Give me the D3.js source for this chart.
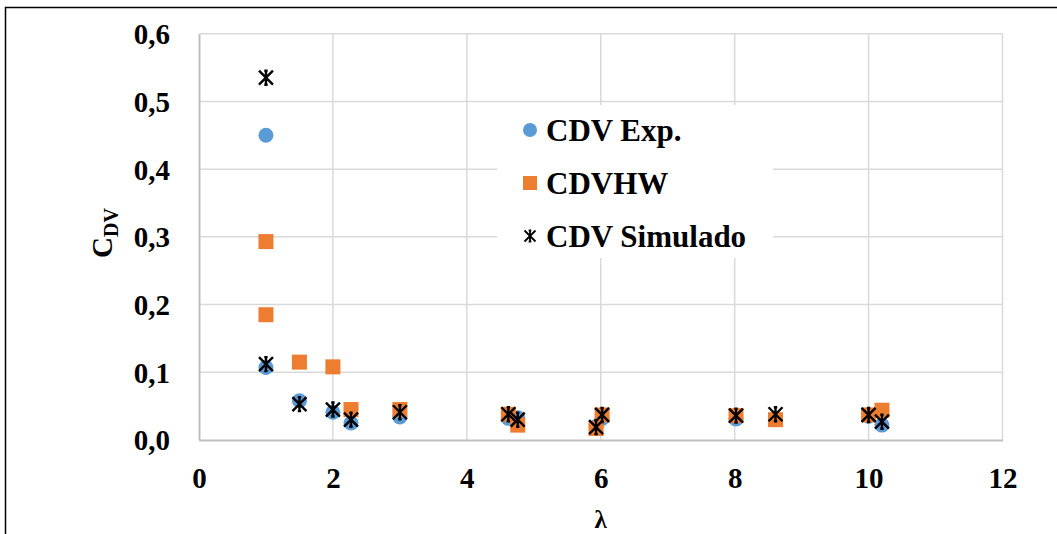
<!DOCTYPE html>
<html><head><meta charset="utf-8">
<script src="https://cdn.jsdelivr.net/npm/d3@7"></script>
<style>
html,body{margin:0;padding:0;background:#fff;}
svg{display:block;}
text{font-family:"Liberation Serif","Times New Roman",serif;font-weight:bold;fill:#000;}
</style></head>
<body>
<svg id="chart" width="1057" height="534"></svg>
<script>
// ---- data ----
const lambdaExp = [1, 1, 1.5, 2, 2.27, 3, 4.62, 4.76, 5.93, 6.02, 8.02, 8.61, 10.0, 10.2];
const cdvExp    = [0.45, 0.107, 0.058, 0.041, 0.025, 0.034, 0.032, 0.033, 0.020, 0.032, 0.031, 0.030, 0.035, 0.022];
const lambdaHW  = [1, 1, 1.5, 2, 2.27, 3, 4.62, 4.76, 5.93, 6.02, 8.02, 8.61, 10.0, 10.2];
const cdvHW     = [0.293, 0.185, 0.115, 0.108, 0.045, 0.045, 0.038, 0.022, 0.017, 0.037, 0.036, 0.030, 0.037, 0.044];
const lambdaSim = [1, 1, 1.5, 2, 2.27, 3, 4.62, 4.76, 5.93, 6.02, 8.02, 8.61, 10.0, 10.2];
const cdvSim    = [0.535, 0.112, 0.053, 0.045, 0.030, 0.041, 0.038, 0.030, 0.019, 0.037, 0.036, 0.038, 0.037, 0.027];
const xTicks = [0, 2, 4, 6, 8, 10, 12];
const yTicks = [0, 0.1, 0.2, 0.3, 0.4, 0.5, 0.6];
const seriesNames = ["CDV Exp.", "CDVHW", "CDV Simulado"];
const colors = {exp: "#5B9BD5", hw: "#ED7D31", sim: "#000000"};

const svg = d3.select("#chart");
const x = d3.scaleLinear().domain([0, 12]).range([199, 1002.5]);
const y = d3.scaleLinear().domain([0, 0.6]).range([440, 33.7]);

// outer border
svg.append("rect").attr("x", 5.5).attr("y", 7.5).attr("width", 1060).attr("height", 540)
  .attr("fill", "none").attr("stroke", "#000").attr("stroke-width", 1.5);

// gridlines
const grid = svg.append("g");
grid.selectAll(".gy").data(yTicks.filter(d => d > 0)).enter().append("line")
  .attr("x1", x(0)).attr("x2", x(12)).attr("y1", d => y(d)).attr("y2", d => y(d))
  .attr("stroke", "#d9d9d9").attr("stroke-width", 1.5);
grid.selectAll(".gx").data(xTicks.filter(d => d > 0)).enter().append("line")
  .attr("x1", d => x(d)).attr("x2", d => x(d)).attr("y1", y(0)).attr("y2", y(0.6))
  .attr("stroke", "#d9d9d9").attr("stroke-width", 1.5);

// axes
const fmt = d => d3.format(".1f")(d).replace(".", ",");
const yAxis = d3.axisLeft(y).tickValues(yTicks).tickFormat(fmt).tickSize(0).tickPadding(29);
const gy = svg.append("g").attr("transform", `translate(${x(0)},0)`).call(yAxis);
gy.select(".domain").attr("stroke", "#bfbfbf").attr("stroke-width", 2);
gy.selectAll("text").style("font-size", "29px").style("font-family", "Liberation Serif").style("font-weight", "bold").attr("dy", "0.34em");

const xAxis = d3.axisBottom(x).tickValues(xTicks).tickFormat(d3.format("d")).tickSize(0).tickPadding(27);
const gx = svg.append("g").attr("transform", `translate(0,${y(0)})`).call(xAxis);
gx.select(".domain").attr("stroke", "#bfbfbf").attr("stroke-width", 2);
gx.selectAll("text").style("font-size", "29px").style("font-family", "Liberation Serif").style("font-weight", "bold");

// axis titles
const yt = svg.append("text").attr("transform", "translate(112,258) rotate(-90)")
  .attr("text-anchor", "start").style("font-size", "29px");
yt.append("tspan").text("C");
yt.append("tspan").attr("dy", 6).style("font-size", "20px").text("DV");

svg.append("text").attr("x", x(6)).attr("y", 528).attr("text-anchor", "middle")
  .style("font-size", "25px").text("λ");

// legend background
const lg = svg.append("g");
lg.append("rect").attr("x", 497).attr("y", 105).attr("width", 276).attr("height", 153).attr("fill", "#fff");

// marker helpers
function starPath(s) {
  const h = s / 2, c = s * 0.12;
  return `M${-h},${-h}L${h},${h}M${-h},${h}L${h},${-h}M0,${-h}L0,${h}M${-c},${-h}L${c},${-h}M${-c},${h}L${c},${h}`;
}

// series
const exp = lambdaExp.map((l, i) => ({l, v: cdvExp[i]}));
const hw = lambdaHW.map((l, i) => ({l, v: cdvHW[i]}));
const sim = lambdaSim.map((l, i) => ({l, v: cdvSim[i]}));

svg.append("g").selectAll("circle").data(exp).enter().append("circle")
  .attr("cx", d => x(d.l)).attr("cy", d => y(d.v)).attr("r", 7.5).attr("fill", colors.exp);
svg.append("g").selectAll("rect").data(hw).enter().append("rect")
  .attr("x", d => x(d.l) - 7.5).attr("y", d => y(d.v) - 7.5).attr("width", 15).attr("height", 15)
  .attr("fill", colors.hw);
svg.append("g").selectAll("path").data(sim).enter().append("path")
  .attr("transform", d => `translate(${x(d.l)},${y(d.v)})`).attr("d", starPath(14))
  .attr("stroke", colors.sim).attr("stroke-width", 2.4).attr("fill", "none");

// legend entries
const ly = [130, 183, 236];
lg.append("circle").attr("cx", 530).attr("cy", ly[0]).attr("r", 7).attr("fill", colors.exp);
lg.append("rect").attr("x", 523).attr("y", ly[1] - 7).attr("width", 14).attr("height", 14).attr("fill", colors.hw);
lg.append("path").attr("transform", `translate(530,${ly[2]})`).attr("d", starPath(11))
  .attr("stroke", "#000").attr("stroke-width", 1.8).attr("fill", "none");
lg.selectAll(".lt").data(seriesNames).enter().append("text")
  .attr("x", 546).attr("y", (d, i) => ly[i]).attr("dy", "0.36em")
  .style("font-size", "31px").text(d => d);
</script>
</body></html>
